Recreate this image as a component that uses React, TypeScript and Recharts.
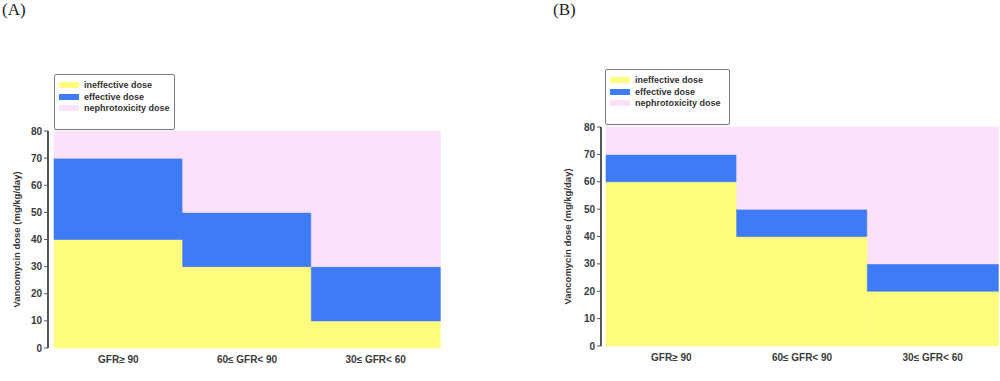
import { BarChart, Bar, XAxis, YAxis, Legend } from "recharts";

const groups = ["GFR≥ 90", "60≤ GFR< 90", "30≤ GFR< 60"];
const yTicks = [0, 10, 20, 30, 40, 50, 60, 70, 80];
const seriesNames = ["ineffective dose", "effective dose", "nephrotoxicity dose"];

// panel A
const ineffectiveA = [40, 30, 10];
const effectiveA = [30, 20, 20];
const nephroA = [10, 30, 50];

// panel B
const ineffectiveB = [60, 40, 20];
const effectiveB = [10, 10, 10];
const nephroB = [10, 30, 50];

const FONT = '"Liberation Sans", Arial, sans-serif';
const YELLOW = "#FFFC7E";
const BLUE = "#3F7BF4";
const PINK = "#FCE1FA";
const colors = [YELLOW, BLUE, PINK];

const toRows = (a: number[], b: number[], c: number[]) =>
    groups.map((g, i) => ({ name: g, ineffective: a[i], effective: b[i], nephro: c[i] }));

const legendBox = (left: number, top: number, width: number) => () => (
    <div
        style={{
            position: "absolute",
            left,
            top,
            width,
            height: 56,
            border: "1.5px solid #7a7a7a",
            borderRadius: 2,
            boxSizing: "border-box",
            padding: "4px 0 0 4px",
            background: "#fff",
        }}
    >
        {seriesNames.map((n, i) => (
            <div key={n} style={{ display: "flex", alignItems: "center", height: 11.7 }}>
                <span style={{ width: 20, height: 6, background: colors[i], marginRight: 5 }} />
                <span style={{ fontSize: 9, fontWeight: "bold", color: "#333", fontFamily: FONT }}>{n}</span>
            </div>
        ))}
    </div>
);

function Panel({ rows, width, margin, pad, labelOffset, legend }: any) {
    return (
        <BarChart width={width} height={381} data={rows} margin={margin} barCategoryGap={0}>
            <XAxis
                dataKey="name"
                axisLine={false}
                tickLine={false}
                height={30}
                padding={{ left: pad, right: 0 }}
                interval={0}
                tick={{ fontSize: 10, fontWeight: "bold", fill: "#3a3a3a", fontFamily: FONT }}
                tickMargin={2}
            />
            <YAxis
                width={40}
                domain={[0, 80]}
                ticks={yTicks}
                interval={0}
                axisLine={{ stroke: "#555", strokeWidth: 2 }}
                tickLine={{ stroke: "#555" }}
                tickSize={4}
                tick={{ fontSize: 10, fontWeight: "bold", fill: "#3a3a3a", fontFamily: FONT }}
                label={{
                    value: "Vancomycin dose (mg/kg/day)",
                    angle: -90,
                    position: "insideLeft",
                    offset: labelOffset,
                    style: { textAnchor: "middle", fontSize: 9.5, fontWeight: "bold", fill: "#3a3a3a", fontFamily: FONT },
                }}
            />
            <Legend content={legend} wrapperStyle={{ position: "absolute", left: 0, top: 0, width: 0, height: 0 }} />
            <Bar dataKey="ineffective" name={seriesNames[0]} stackId="s" fill={YELLOW} stroke={YELLOW} strokeWidth={0.6} isAnimationActive={false} />
            <Bar dataKey="effective" name={seriesNames[1]} stackId="s" fill={BLUE} stroke={BLUE} strokeWidth={0.6} isAnimationActive={false} />
            <Bar dataKey="nephro" name={seriesNames[2]} stackId="s" fill={PINK} stroke={PINK} strokeWidth={0.6} isAnimationActive={false} />
        </BarChart>
    );
}

export default function App() {
    return (
        <div style={{ position: "absolute", left: 0, top: 0, width: 1000, height: 381, background: "#fff", fontFamily: FONT }}>
            <div style={{ position: "absolute", left: 2, top: 0, fontFamily: '"Liberation Serif", serif', fontSize: 17, color: "#222" }}>(A)</div>
            <div style={{ position: "absolute", left: 553, top: 0, fontFamily: '"Liberation Serif", serif', fontSize: 17, color: "#222" }}>(B)</div>
            <div style={{ position: "absolute", left: 0, top: 0 }}>
                <Panel
                    rows={toRows(ineffectiveA, effectiveA, nephroA)}
                    width={460}
                    margin={{ top: 131, right: 20, bottom: 3, left: 8 }}
                    pad={6}
                    labelOffset={9}
                    legend={legendBox(54, 74, 121)}
                />
            </div>
            <div style={{ position: "absolute", left: 540, top: 0 }}>
                <Panel
                    rows={toRows(ineffectiveB, effectiveB, nephroB)}
                    width={460}
                    margin={{ top: 127, right: 2, bottom: 5, left: 21 }}
                    pad={5}
                    labelOffset={7}
                    legend={legendBox(65, 69, 125)}
                />
            </div>
        </div>
    );
}
